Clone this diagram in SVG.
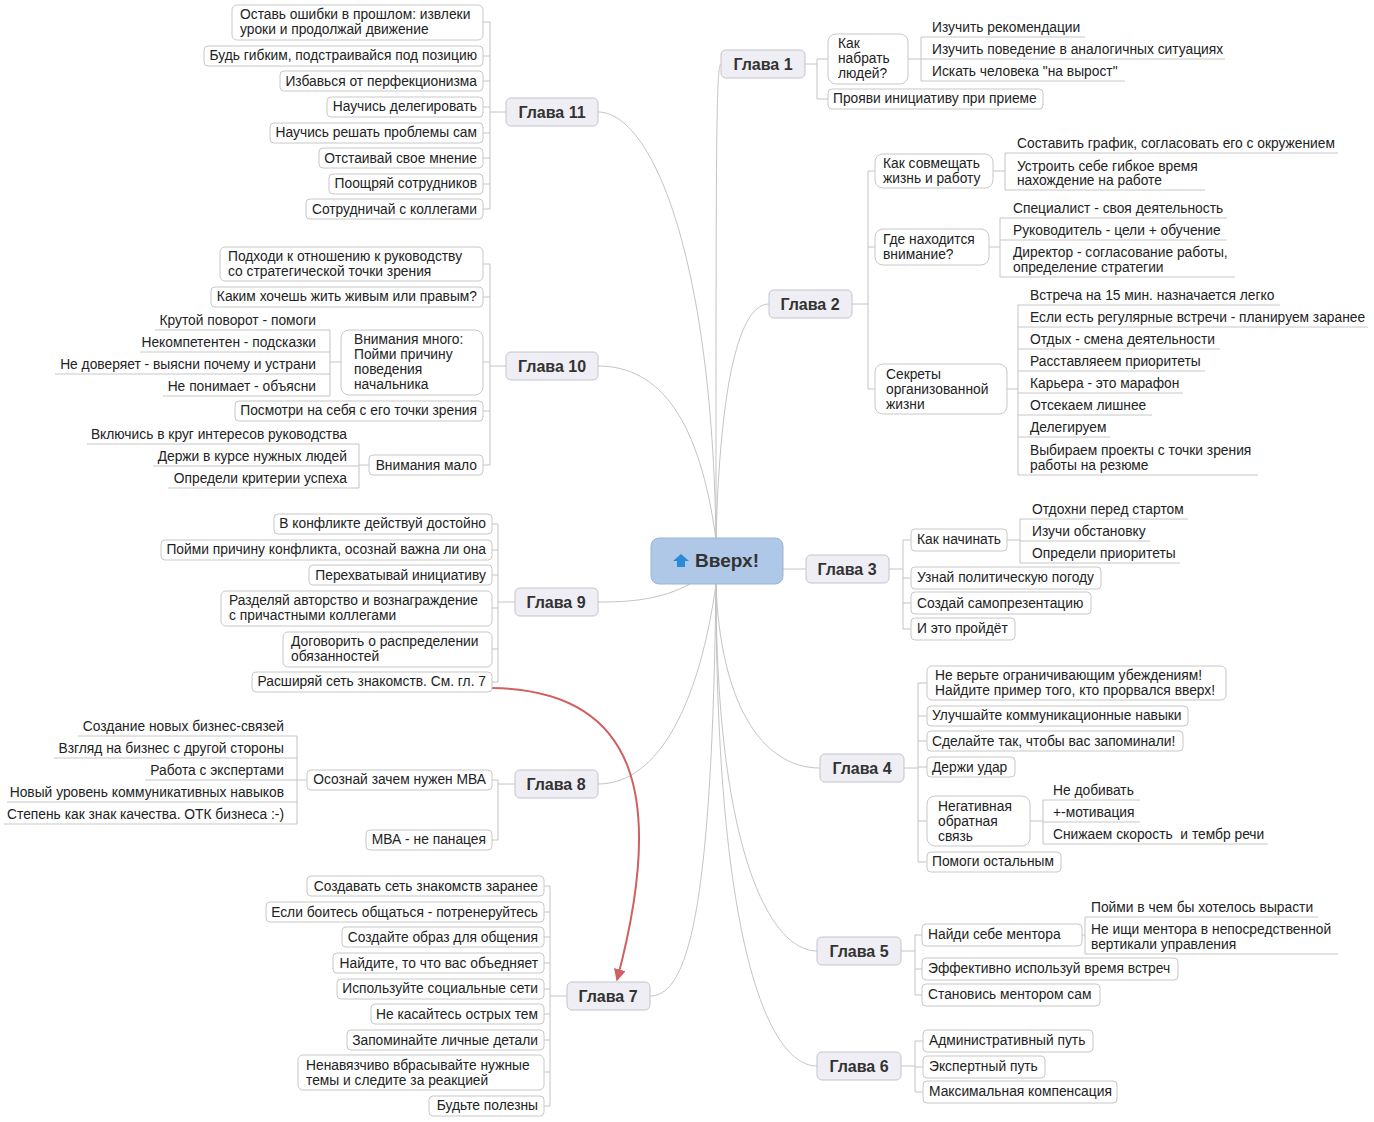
<svg xmlns="http://www.w3.org/2000/svg" width="1374" height="1122" viewBox="0 0 1374 1122">
<defs>
<style>
text{font-family:"Liberation Sans","DejaVu Sans",sans-serif;font-size:13.8px;fill:#222}
.e{text-anchor:end}
.b{fill:#fff;stroke:#c8c8c8;stroke-width:1}
.c{fill:#eeeef4;stroke:#c4c4cc;stroke-width:1}
.ct{font-size:16px;font-weight:bold;fill:#333;text-anchor:middle}
.u{stroke:#c8c8c8;stroke-width:1}
.k path{fill:none;stroke:#c4c4c4;stroke-width:1}
.k path.red{stroke:#d06060;stroke-width:2}
</style>
<marker id="ar" viewBox="0 0 10 10" refX="9" refY="5" markerWidth="6" markerHeight="6" orient="auto"><path d="M0,0L10,5L0,10z" fill="#d06060" stroke="none"/></marker>
</defs>
<rect width="1374" height="1122" fill="#fff"/>
<g id="connectors" class="k">
<path d="M716,540 C716,150 716,64 721,64"/>
<path d="M716,540 C712,250 650,112 598,112"/>
<path d="M716,540 C720,380 740,304 769,304"/>
<path d="M716,540 C700,420 660,366 598,366"/>
<path d="M690,584 C660,600 630,602 598,602"/>
<path d="M783,569 H806"/>
<path d="M716,584 C720,700 760,768 820,768"/>
<path d="M716,584 C700,700 660,784 598,784"/>
<path d="M716,584 C716,850 770,951 817,951"/>
<path d="M716,584 C712,900 690,996 650,996"/>
<path d="M716,584 C716,950 770,1066 817,1066"/>
<path d="M805,64 H817 M817,59 V99 M817,59 H828 M817,99 H828"/>
<path d="M908,59 H921 M921,37 V81 M921,37 H926 M921,59 H926 M921,81 H926"/>
<path d="M852,304 H868 M868,171 V389 M868,171 H875 M868,247 H875 M868,389 H875"/>
<path d="M993,171 H1005 M1005,153 V190 M1005,153 H1011 M1005,190 H1011"/>
<path d="M989,247 H1000 M1000,218 V277 M1000,218 H1007 M1000,240 H1007 M1000,277 H1007"/>
<path d="M1007,389 H1018 M1018,305 V475 M1018,305 H1024 M1018,327 H1024 M1018,349 H1024 M1018,371 H1024 M1018,393 H1024 M1018,415 H1024 M1018,437 H1024 M1018,475 H1024"/>
<path d="M889,569 H903 M903,540 V629 M903,540 H911 M903,578 H911 M903,603 H911 M903,629 H911"/>
<path d="M1007,540 H1020 M1020,519 V563 M1020,519 H1026 M1020,541 H1026 M1020,563 H1026"/>
<path d="M904,768 H918 M918,683 V862 M918,683 H927 M918,716 H927 M918,741 H927 M918,767 H927 M918,821 H927 M918,862 H927"/>
<path d="M1030,821 H1043 M1043,800 V844 M1043,800 H1047 M1043,822 H1047 M1043,844 H1047"/>
<path d="M901,951 H915 M915,935 V995 M915,935 H922 M915,969 H922 M915,995 H922"/>
<path d="M1082,935 H1085 M1085,917 V954 M1085,917 H1089 M1085,954 H1089"/>
<path d="M901,1066 H915 M915,1041 V1092 M915,1041 H923 M915,1067 H923 M915,1092 H923"/>
<path d="M506,112 H490 M490,22 V209 M490,22 H483 M490,56 H483 M490,81 H483 M490,107 H483 M490,133 H483 M490,158 H483 M490,184 H483 M490,209 H483"/>
<path d="M506,366 H490 M490,264 V465 M490,264 H483 M490,297 H483 M490,362 H483 M490,411 H483 M490,465 H483"/>
<path d="M341,362 H330 M330,330 V396 M330,330 H321 M330,352 H321 M330,374 H321 M330,396 H321"/>
<path d="M369,465 H359 M359,444 V488 M359,444 H352 M359,466 H352 M359,488 H352"/>
<path d="M515,602 H498 M498,524 V682 M498,524 H492 M498,550 H492 M498,575 H492 M498,608 H492 M498,649 H492 M498,682 H492"/>
<path d="M515,784 H498 M498,780 V840 M498,780 H492 M498,840 H492"/>
<path d="M307,780 H297 M297,736 V824 M297,736 H291 M297,758 H291 M297,780 H291 M297,802 H291 M297,824 H291"/>
<path d="M550,886 V1106 M567,996 H550 M550,886 H544 M550,912 H544 M550,937 H544 M550,963 H544 M550,989 H544 M550,1014 H544 M550,1040 H544 M550,1072 H544 M550,1106 H544"/>
<path class="red" d="M492,688 C640,690 665,800 617,980" marker-end="url(#ar)"/>
</g>
<g id="center">
<rect x="651" y="538" width="132" height="46" rx="8" fill="#b0c8e8" stroke="#9ab4d8"/>
<path d="M681,554 L689,561 L685,561 L685,567 L677,567 L677,561 L673,561 Z" fill="#2a8ad8"/>
<text x="695" y="567" style="font-size:19px;font-weight:bold;fill:#333">Вверх!</text>
</g>
<g id="g1"><rect class="c" x="721" y="50" width="84" height="28" rx="5"/><text class="ct" x="763" y="70">Глава 1</text>
<rect class="b" x="828" y="34" width="80" height="50" rx="8"/><text x="838" y="48">Как</text><text x="838" y="63">набрать</text><text x="838" y="78">людей?</text>
<rect class="b" x="828" y="89" width="215" height="20" rx="4"/><text x="833" y="103">Прояви инициативу при приеме</text>
<text x="932" y="32">Изучить рекомендации</text><line class="u" x1="926" y1="37" x2="1085" y2="37"/>
<text x="932" y="54">Изучить поведение в аналогичных ситуациях</text><line class="u" x1="926" y1="59" x2="1225" y2="59"/>
<text x="932" y="76">Искать человека "на вырост"</text><line class="u" x1="926" y1="81" x2="1125" y2="81"/>
</g>
<g id="g2"><rect class="c" x="769" y="290" width="83" height="28" rx="5"/><text class="ct" x="810" y="310">Глава 2</text>
<rect class="b" x="875" y="154" width="118" height="34" rx="8"/><text x="883" y="168">Как совмещать</text><text x="883" y="183">жизнь и работу</text>
<rect class="b" x="875" y="229" width="114" height="36" rx="8"/><text x="883" y="244">Где находится</text><text x="883" y="259">внимание?</text>
<rect class="b" x="875" y="364" width="132" height="50" rx="8"/><text x="886" y="379">Секреты</text><text x="886" y="394">организованной</text><text x="886" y="409">жизни</text>
<text x="1017" y="148">Составить график, согласовать его с окружением</text><line class="u" x1="1011" y1="153" x2="1338" y2="153"/>
<text x="1017" y="171">Устроить себе гибкое время</text><text x="1017" y="185">нахождение на работе</text><line class="u" x1="1011" y1="190" x2="1205" y2="190"/>
<text x="1013" y="213">Специалист - своя деятельность</text><line class="u" x1="1007" y1="218" x2="1227" y2="218"/>
<text x="1013" y="235">Руководитель - цели + обучение</text><line class="u" x1="1007" y1="240" x2="1227" y2="240"/>
<text x="1013" y="257">Директор - согласование работы,</text><text x="1013" y="272">определение стратегии</text><line class="u" x1="1007" y1="277" x2="1235" y2="277"/>
<text x="1030" y="300">Встреча на 15 мин. назначается легко</text><line class="u" x1="1024" y1="305" x2="1280" y2="305"/>
<text x="1030" y="322">Если есть регулярные встречи - планируем заранее</text><line class="u" x1="1024" y1="327" x2="1368" y2="327"/>
<text x="1030" y="344">Отдых - смена деятельности</text><line class="u" x1="1024" y1="349" x2="1220" y2="349"/>
<text x="1030" y="366">Расставляеем приоритеты</text><line class="u" x1="1024" y1="371" x2="1205" y2="371"/>
<text x="1030" y="388">Карьера - это марафон</text><line class="u" x1="1024" y1="393" x2="1183" y2="393"/>
<text x="1030" y="410">Отсекаем лишнее</text><line class="u" x1="1024" y1="415" x2="1152" y2="415"/>
<text x="1030" y="432">Делегируем</text><line class="u" x1="1024" y1="437" x2="1110" y2="437"/>
<text x="1030" y="455">Выбираем проекты с точки зрения</text><text x="1030" y="470">работы на резюме</text><line class="u" x1="1024" y1="475" x2="1258" y2="475"/>
</g>
<g id="g3"><rect class="c" x="806" y="555" width="83" height="28" rx="5"/><text class="ct" x="847" y="575">Глава 3</text>
<rect class="b" x="911" y="529" width="96" height="22" rx="4"/><text x="917" y="544">Как начинать</text>
<rect class="b" x="911" y="567" width="190" height="22" rx="4"/><text x="917" y="582">Узнай политическую погоду</text>
<rect class="b" x="911" y="592" width="180" height="22" rx="4"/><text x="917" y="608">Создай самопрезентацию</text>
<rect class="b" x="911" y="618" width="104" height="22" rx="4"/><text x="917" y="633">И это пройдёт</text>
<text x="1032" y="514">Отдохни перед стартом</text><line class="u" x1="1026" y1="519" x2="1188" y2="519"/>
<text x="1032" y="536">Изучи обстановку</text><line class="u" x1="1026" y1="541" x2="1150" y2="541"/>
<text x="1032" y="558">Определи приоритеты</text><line class="u" x1="1026" y1="563" x2="1180" y2="563"/>
</g>
<g id="g4"><rect class="c" x="820" y="754" width="84" height="28" rx="5"/><text class="ct" x="862" y="774">Глава 4</text>
<rect class="b" x="927" y="666" width="299" height="34" rx="5"/><text x="935" y="680">Не верьте ограничивающим убеждениям!</text><text x="935" y="695">Найдите пример того, кто прорвался вверх!</text>
<rect class="b" x="927" y="706" width="261" height="20" rx="4"/><text x="932" y="720">Улучшайте коммуникационные навыки</text>
<rect class="b" x="927" y="731" width="256" height="20" rx="4"/><text x="932" y="746">Сделайте так, чтобы вас запоминали!</text>
<rect class="b" x="927" y="757" width="88" height="20" rx="4"/><text x="932" y="772">Держи удар</text>
<rect class="b" x="927" y="796" width="103" height="50" rx="8"/><text x="938" y="811">Негативная</text><text x="938" y="826">обратная</text><text x="938" y="841">связь</text>
<rect class="b" x="927" y="852" width="134" height="20" rx="4"/><text x="932" y="866">Помоги остальным</text>
<text x="1053" y="795">Не добивать</text><line class="u" x1="1047" y1="800" x2="1140" y2="800"/>
<text x="1053" y="817">+-мотивация</text><line class="u" x1="1047" y1="822" x2="1140" y2="822"/>
<text x="1053" y="839" xml:space="preserve">Снижаем скорость  и тембр речи</text><line class="u" x1="1047" y1="844" x2="1268" y2="844"/>
</g>
<g id="g5"><rect class="c" x="817" y="937" width="84" height="28" rx="5"/><text class="ct" x="859" y="957">Глава 5</text>
<rect class="b" x="922" y="924" width="160" height="22" rx="4"/><text x="928" y="939">Найди себе ментора</text>
<rect class="b" x="922" y="958" width="256" height="22" rx="4"/><text x="928" y="973">Эффективно используй время встреч</text>
<rect class="b" x="922" y="984" width="178" height="22" rx="4"/><text x="928" y="999">Становись ментором сам</text>
<text x="1091" y="912">Пойми в чем бы хотелось вырасти</text><line class="u" x1="1089" y1="917" x2="1318" y2="917"/>
<text x="1091" y="934">Не ищи ментора в непосредственной</text><text x="1091" y="949">вертикали управления</text><line class="u" x1="1089" y1="954" x2="1338" y2="954"/>
</g>
<g id="g6"><rect class="c" x="817" y="1052" width="84" height="28" rx="5"/><text class="ct" x="859" y="1072">Глава 6</text>
<rect class="b" x="923" y="1030" width="170" height="22" rx="4"/><text x="929" y="1045">Административный путь</text>
<rect class="b" x="923" y="1056" width="122" height="22" rx="4"/><text x="929" y="1071">Экспертный путь</text>
<rect class="b" x="923" y="1081" width="194" height="22" rx="4"/><text x="929" y="1096">Максимальная компенсация</text>
</g>
<g id="g11"><rect class="c" x="506" y="98" width="92" height="28" rx="5"/><text class="ct" x="552" y="118">Глава 11</text>
<rect class="b" x="232" y="5" width="251" height="35" rx="5"/><text x="240" y="19">Оставь ошибки в прошлом: извлеки</text><text x="240" y="34">уроки и продолжай движение</text>
<rect class="b" x="204" y="46" width="279" height="20" rx="4"/><text class="e" x="477" y="60">Будь гибким, подстраивайся под позицию</text>
<rect class="b" x="280" y="71" width="203" height="20" rx="4"/><text class="e" x="477" y="86">Избавься от перфекционизма</text>
<rect class="b" x="327" y="97" width="156" height="20" rx="4"/><text class="e" x="477" y="111">Научись делегировать</text>
<rect class="b" x="270" y="123" width="213" height="20" rx="4"/><text class="e" x="477" y="137">Научись решать проблемы сам</text>
<rect class="b" x="319" y="148" width="164" height="20" rx="4"/><text class="e" x="477" y="163">Отстаивай свое мнение</text>
<rect class="b" x="329" y="174" width="154" height="20" rx="4"/><text class="e" x="477" y="188">Поощряй сотрудников</text>
<rect class="b" x="306" y="199" width="177" height="20" rx="4"/><text class="e" x="477" y="214">Сотрудничай с коллегами</text>
</g>
<g id="g10"><rect class="c" x="506" y="352" width="92" height="28" rx="5"/><text class="ct" x="552" y="372">Глава 10</text>
<rect class="b" x="220" y="247" width="263" height="34" rx="5"/><text x="228" y="261">Подходи к отношению к руководству</text><text x="228" y="276">со стратегической точки зрения</text>
<rect class="b" x="211" y="287" width="272" height="20" rx="4"/><text class="e" x="477" y="301">Каким хочешь жить живым или правым?</text>
<rect class="b" x="341" y="330" width="142" height="65" rx="8"/><text x="354" y="344">Внимания много:</text><text x="354" y="359">Пойми причину</text><text x="354" y="374">поведения</text><text x="354" y="389">начальника</text>
<rect class="b" x="235" y="401" width="248" height="20" rx="4"/><text class="e" x="477" y="415">Посмотри на себя с его точки зрения</text>
<rect class="b" x="369" y="455" width="114" height="20" rx="4"/><text class="e" x="477" y="470">Внимания мало</text>
<text class="e" x="316" y="325">Крутой поворот - помоги</text><line class="u" x1="155" y1="330" x2="321" y2="330"/>
<text class="e" x="316" y="347">Некомпетентен - подсказки</text><line class="u" x1="140" y1="352" x2="321" y2="352"/>
<text class="e" x="316" y="369">Не доверяет - выясни почему и устрани</text><line class="u" x1="55" y1="374" x2="321" y2="374"/>
<text class="e" x="316" y="391">Не понимает - объясни</text><line class="u" x1="163" y1="396" x2="321" y2="396"/>
<text class="e" x="347" y="439">Включись в круг интересов руководства</text><line class="u" x1="87" y1="444" x2="352" y2="444"/>
<text class="e" x="347" y="461">Держи в курсе нужных людей</text><line class="u" x1="153" y1="466" x2="352" y2="466"/>
<text class="e" x="347" y="483">Определи критерии успеха</text><line class="u" x1="168" y1="488" x2="352" y2="488"/>
</g>
<g id="g9"><rect class="c" x="515" y="588" width="83" height="28" rx="5"/><text class="ct" x="556" y="608">Глава 9</text>
<rect class="b" x="274" y="514" width="218" height="20" rx="4"/><text class="e" x="486" y="528">В конфликте действуй достойно</text>
<rect class="b" x="161" y="540" width="331" height="20" rx="4"/><text class="e" x="486" y="554">Пойми причину конфликта, осознай важна ли она</text>
<rect class="b" x="309" y="565" width="183" height="20" rx="4"/><text class="e" x="486" y="580">Перехватывай инициативу</text>
<rect class="b" x="221" y="591" width="271" height="35" rx="5"/><text x="229" y="605">Разделяй авторство и вознаграждение</text><text x="229" y="620">с причастными коллегами</text>
<rect class="b" x="283" y="632" width="209" height="35" rx="5"/><text x="291" y="646">Договорить о распределении</text><text x="291" y="661">обязанностей</text>
<rect class="b" x="252" y="672" width="240" height="20" rx="4"/><text class="e" x="486" y="686">Расширяй сеть знакомств. См. гл. 7</text>
</g>
<g id="g8"><rect class="c" x="515" y="770" width="83" height="28" rx="5"/><text class="ct" x="556" y="790">Глава 8</text>
<rect class="b" x="307" y="770" width="185" height="20" rx="4"/><text class="e" x="486" y="784">Осознай зачем нужен МВА</text>
<rect class="b" x="366" y="830" width="126" height="20" rx="4"/><text class="e" x="486" y="844">МВА - не панацея</text>
<text class="e" x="284" y="731">Создание новых бизнес-связей</text><line class="u" x1="78" y1="736" x2="291" y2="736"/>
<text class="e" x="284" y="753">Взгляд на бизнес с другой стороны</text><line class="u" x1="54" y1="758" x2="291" y2="758"/>
<text class="e" x="284" y="775">Работа с экспертами</text><line class="u" x1="145" y1="780" x2="291" y2="780"/>
<text class="e" x="284" y="797">Новый уровень коммуникативных навыков</text><line class="u" x1="7" y1="802" x2="291" y2="802"/>
<text class="e" x="284" y="819">Степень как знак качества. ОТК бизнеса :-)</text><line class="u" x1="4" y1="824" x2="291" y2="824"/>
</g>
<g id="g7"><rect class="c" x="567" y="982" width="83" height="28" rx="5"/><text class="ct" x="608" y="1002">Глава 7</text>
<rect class="b" x="307" y="876" width="237" height="20" rx="4"/><text class="e" x="538" y="891">Создавать сеть знакомств заранее</text>
<rect class="b" x="266" y="902" width="278" height="20" rx="4"/><text class="e" x="538" y="917">Если боитесь общаться - потренеруйтесь</text>
<rect class="b" x="342" y="927" width="202" height="20" rx="4"/><text class="e" x="538" y="942">Создайте образ для общения</text>
<rect class="b" x="333" y="953" width="211" height="20" rx="4"/><text class="e" x="538" y="968">Найдите, то что вас объедняет</text>
<rect class="b" x="337" y="979" width="207" height="20" rx="4"/><text class="e" x="538" y="993">Используйте социальные сети</text>
<rect class="b" x="371" y="1004" width="173" height="20" rx="4"/><text class="e" x="538" y="1019">Не касайтесь острых тем</text>
<rect class="b" x="347" y="1030" width="197" height="20" rx="4"/><text class="e" x="538" y="1045">Запоминайте личные детали</text>
<rect class="b" x="298" y="1055" width="246" height="35" rx="5"/><text x="306" y="1070">Ненавязчиво вбрасывайте нужные</text><text x="306" y="1085">темы и следите за реакцией</text>
<rect class="b" x="429" y="1096" width="115" height="20" rx="4"/><text class="e" x="538" y="1110">Будьте полезны</text>
</g>
</svg>
